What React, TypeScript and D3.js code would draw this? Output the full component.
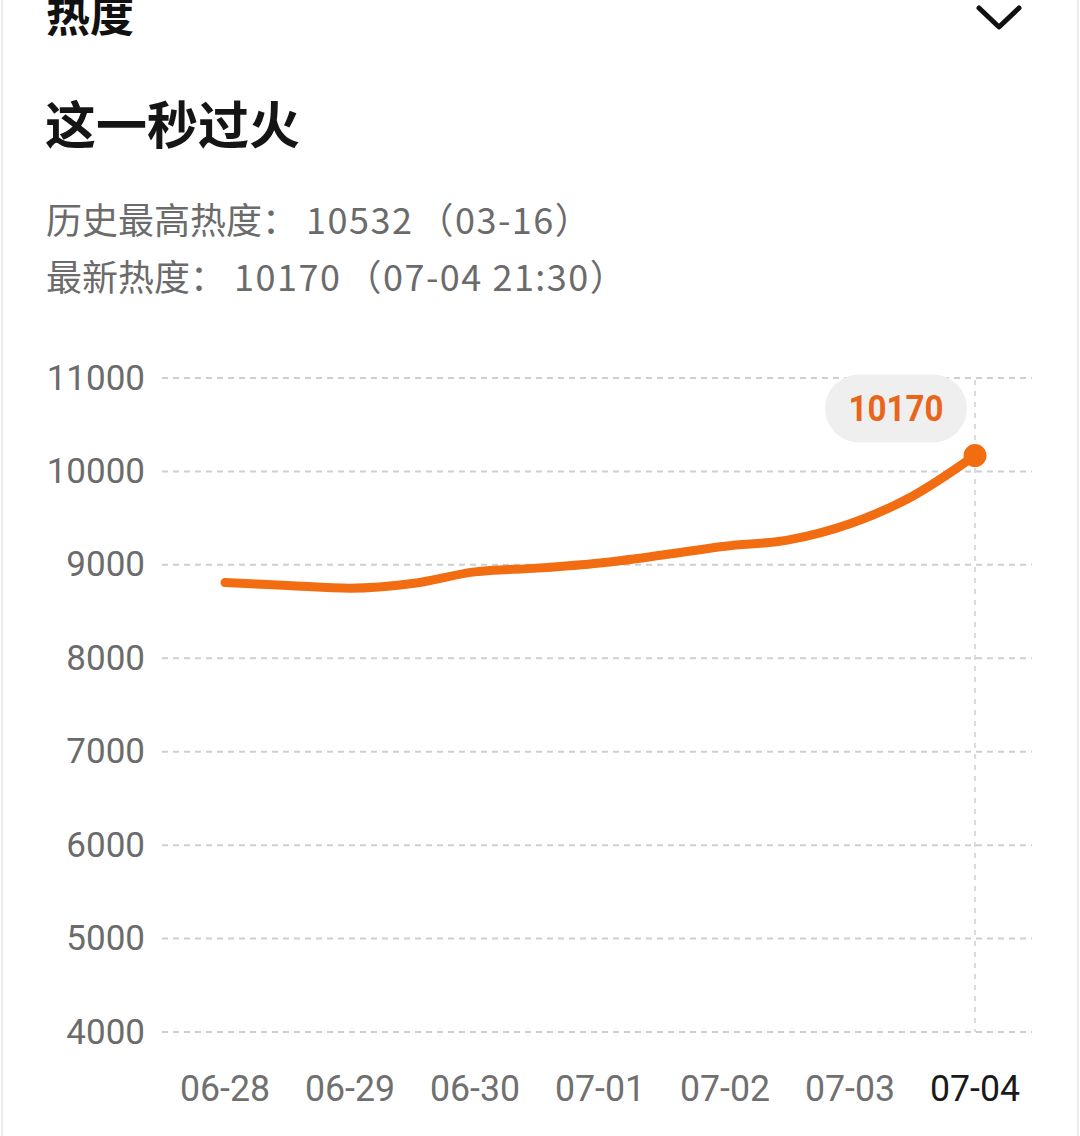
import React from "react";
import * as d3 from "d3";

const pageTitle = "热度";
const topicTitle = "这一秒过火";
const statLabels = ["历史最高热度：", "最新热度："];
const statValues = ["10532", "10170"];
const statDates = ["（03-16）", "（07-04 21:30）"];

const dayLabels = ["06-28", "06-29", "06-30", "07-01", "07-02", "07-03", "07-04"];
const yTicks = [4000, 5000, 6000, 7000, 8000, 9000, 10000, 11000];

const pointTimes = [
  "06-28 00:00", "06-28 12:00", "06-29 00:00", "06-29 12:00", "06-30 00:00",
  "06-30 12:00", "07-01 00:00", "07-01 12:00", "07-02 00:00", "07-02 12:00",
  "07-03 00:00", "07-03 12:00", "07-04 00:00",
];
const heatValues = [8810, 8780, 8750, 8800, 8925, 8965, 9020, 9105, 9200, 9265, 9440, 9735, 10170];
const latestLabel = "10170";

const parse = (s: string) => {
  const [md, hm] = s.split(" ");
  const [m, d] = md.split("-").map(Number);
  const [h, mi] = (hm || "00:00").split(":").map(Number);
  return new Date(2024, m - 1, d, h, mi);
};

const ORANGE = "#f26c12";

export default function App() {
  const x = d3
    .scaleTime()
    .domain([parse(dayLabels[0]), parse(dayLabels[dayLabels.length - 1])])
    .range([225, 975]);
  const y = d3.scaleLinear().domain([4000, 11000]).range([1032, 378]);

  const data = pointTimes.map((t, i) => ({ t: parse(t), v: heatValues[i] }));
  const line = d3
    .line<{ t: Date; v: number }>()
    .x((d) => x(d.t))
    .y((d) => y(d.v))
    .curve(d3.curveMonotoneX);

  const last = data[data.length - 1];
  const lx = x(last.t);
  const ly = y(last.v);
  const numFont = "Roboto, 'Noto Sans', sans-serif";
  const cjkFont = "'Noto Sans CJK SC', 'Noto Sans', sans-serif";

  return (
    <svg
      width={1080}
      height={1136}
      style={{ position: "absolute", left: 0, top: 0, display: "block", background: "#fff" }}
    >
      <rect x={0} y={0} width={1080} height={1136} fill="#fff" />
      <line x1={2} x2={2} y1={0} y2={1136} stroke="#ededed" strokeWidth={2} />
      <line x1={1078} x2={1078} y1={0} y2={1136} stroke="#ededed" strokeWidth={2} />

      <text x={46} y={32} fontFamily={cjkFont} fontSize={44} fontWeight={700} fill="#111">
        {pageTitle}
      </text>
      <polyline
        points="979,8 999,27 1019,8"
        fill="none"
        stroke="#111"
        strokeWidth={5}
        strokeLinecap="round"
        strokeLinejoin="round"
      />
      <text x={45} y={144} fontFamily={cjkFont} fontSize={51} fontWeight={700} fill="#151515">
        {topicTitle}
      </text>
      {statLabels.map((s, i) => (
        <text key={i} x={46} y={234 + i * 57} fontFamily={cjkFont} fontSize={36} fill="#6b6b6b">
          <tspan>{s}</tspan>
          <tspan dx={8} letterSpacing={1.5}>{statValues[i]}</tspan>
          <tspan dx={4} letterSpacing={1.5}>{statDates[i]}</tspan>
        </text>
      ))}

      {yTicks.map((t) => (
        <g key={t}>
          <line
            x1={162}
            x2={1032}
            y1={y(t)}
            y2={y(t)}
            stroke="#cfcfcf"
            strokeWidth={2}
            strokeDasharray="6 5"
          />
          <text
            x={145}
            y={y(t)}
            dy="0.33em"
            textAnchor="end"
            fontFamily={numFont}
            fontSize={35}
            fill="#6b6b6b"
          >
            {t}
          </text>
        </g>
      ))}

      <line
        x1={lx}
        x2={lx}
        y1={380}
        y2={y(4000)}
        stroke="#d0d0d0"
        strokeWidth={1.5}
        strokeDasharray="5 6"
      />

      {dayLabels.map((d, i) => (
        <text
          key={d}
          x={x(parse(d))}
          y={1101}
          textAnchor="middle"
          fontFamily={numFont}
          fontSize={36}
          textLength={90}
          lengthAdjust="spacingAndGlyphs"
          fill={i === dayLabels.length - 1 ? "#1a1a1a" : "#707070"}
        >
          {d}
        </text>
      ))}

      <path d={line(data) || ""} fill="none" stroke={ORANGE} strokeWidth={9} strokeLinecap="round" />
      <circle cx={lx} cy={ly} r={11.5} fill={ORANGE} />

      <rect x={lx - 150} y={ly - 81} width={142} height={68} rx={34} fill="#efefef" />
      <text
        x={lx - 79}
        y={ly - 48}
        dy="0.36em"
        textAnchor="middle"
        fontFamily={numFont}
        fontSize={36}
        fontWeight={700}
        textLength={95}
        lengthAdjust="spacingAndGlyphs"
        fill="#e8661c"
      >
        {latestLabel}
      </text>
    </svg>
  );
}
